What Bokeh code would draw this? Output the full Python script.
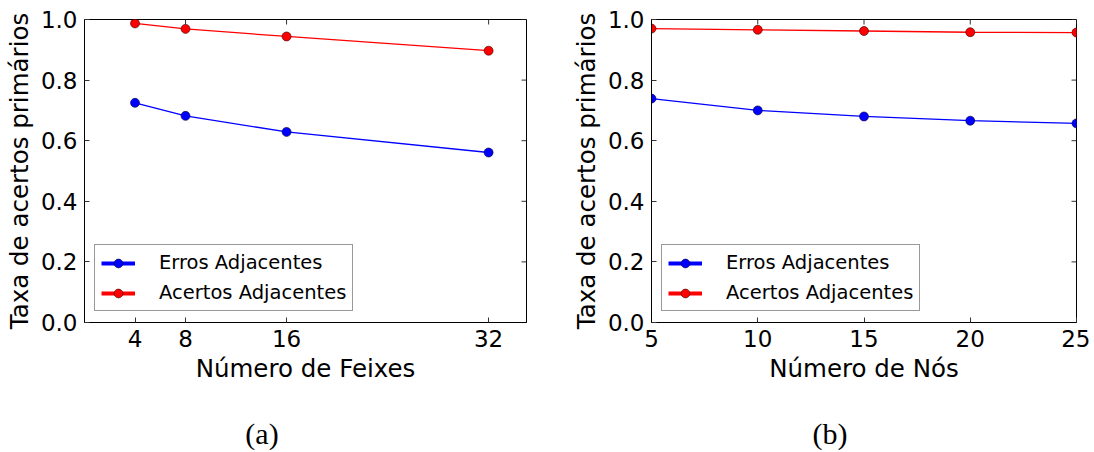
import math
from bokeh.plotting import figure
from bokeh.models import Range1d, FixedTicker, Legend, LegendItem, PrintfTickFormatter, Div, Spacer
from bokeh.layouts import row, column
from bokeh.embed import file_html
from bokeh.resources import INLINE

feixes = [4, 8, 16, 32]
feixes_erros = [0.725, 0.682, 0.629, 0.561]
feixes_acertos = [0.987, 0.969, 0.944, 0.897]

nos = [5, 10, 15, 20, 25]
nos_erros = [0.739, 0.700, 0.680, 0.666, 0.657]
nos_acertos = [0.970, 0.966, 0.962, 0.958, 0.957]

y_ticks = [0.0, 0.2, 0.4, 0.6, 0.8, 1.0]
feixes_ticks = [4, 8, 16, 32]
nos_ticks = [5, 10, 15, 20, 25]
captions = ["(a)", "(b)"]

FONT = "DejaVu Sans"
H = 418
TOP = 19
BOTTOM = 96
NAN = float("nan")


def panel(xs, erros, acertos, xr, xticks, xlabel, width, bl, br):
    p = figure(width=width, height=H, x_range=Range1d(*xr), y_range=Range1d(0, 1),
               toolbar_location=None, output_backend="svg",
               min_border_left=bl, min_border_right=br,
               min_border_top=TOP, min_border_bottom=BOTTOM)
    p.grid.visible = False
    p.outline_line_color = "black"
    p.outline_line_width = 1

    p.xaxis.ticker = FixedTicker(ticks=xticks)
    p.yaxis.ticker = FixedTicker(ticks=y_ticks)
    p.yaxis.formatter = PrintfTickFormatter(format="%.1f")
    for ax in (p.xaxis[0], p.yaxis[0]):
        ax.major_tick_in = 5
        ax.major_tick_out = 0
        ax.minor_tick_in = 0
        ax.minor_tick_out = 0
        ax.major_tick_line_color = "#333333"
        ax.axis_line_color = "black"
        ax.major_label_text_font = FONT
        ax.major_label_text_font_size = "23px"
        ax.major_label_text_color = "black"
        ax.major_label_standoff = 7
        ax.axis_label_text_font = FONT
        ax.axis_label_text_font_size = "24.5px"
        ax.axis_label_text_font_style = "normal"
        ax.axis_label_text_color = "black"
        ax.axis_label_standoff = 4
    p.xaxis.axis_label = xlabel
    p.yaxis.axis_label = "Taxa de acertos primários"

    # inward ticks on the top and right edges of the frame
    p.ray(x=xticks, y=[1.0] * len(xticks), length=5, length_units="screen",
          angle=-math.pi / 2, color="#333333", line_width=1)
    p.ray(x=[xr[1]] * len(y_ticks), y=y_ticks, length=5, length_units="screen",
          angle=math.pi, color="#333333", line_width=1)

    p.line(xs, erros, color="#0000ff", line_width=1.3)
    p.scatter(xs, erros, size=9, fill_color="#0000ff", line_color="#000033", line_width=0.6)
    p.line(xs, acertos, color="#ff0000", line_width=1.3)
    p.scatter(xs, acertos, size=9, fill_color="#ff0000", line_color="#330000", line_width=0.6)

    items = []
    for label, col, edge in (("Erros Adjacentes", "#0000ff", "#000033"),
                             ("Acertos Adjacentes", "#ff0000", "#330000")):
        lr = p.line([NAN], [NAN], color=col, line_width=4)
        sr = p.scatter([NAN], [NAN], size=9, fill_color=col, line_color=edge, line_width=0.6)
        items.append(LegendItem(label=label, renderers=[lr, sr]))
    leg = Legend(items=items, location=(10, 11), margin=0, padding=6, spacing=7,
                 glyph_width=34, glyph_height=22, label_height=22, label_standoff=24,
                 label_text_font=FONT, label_text_font_size="19.5px", label_text_color="black",
                 border_line_color="#333333", border_line_width=1, background_fill_alpha=1)
    p.add_layout(leg)
    return p


def caption_div(text):
    return Div(text=text, width=100, height=32,
               styles={"text-align": "center", "font-family": "Liberation Serif",
                       "font-size": "30px", "line-height": "32px", "color": "black",
                       "margin": "0", "padding": "0"})


p1 = panel(feixes, feixes_erros, feixes_acertos, (0, 35), feixes_ticks, "Número de Feixes",
           545, 84, 19)
p2 = panel(nos, nos_erros, nos_acertos, (5, 25), nos_ticks, "Número de Nós",
           545, 106, 14)

caps = row(Spacer(width=212, height=32), caption_div(captions[0]),
           Spacer(width=468, height=32), caption_div(captions[1]))

layout = column(row(p1, p2), caps)
open("out.html", "w").write(file_html(layout, INLINE))
